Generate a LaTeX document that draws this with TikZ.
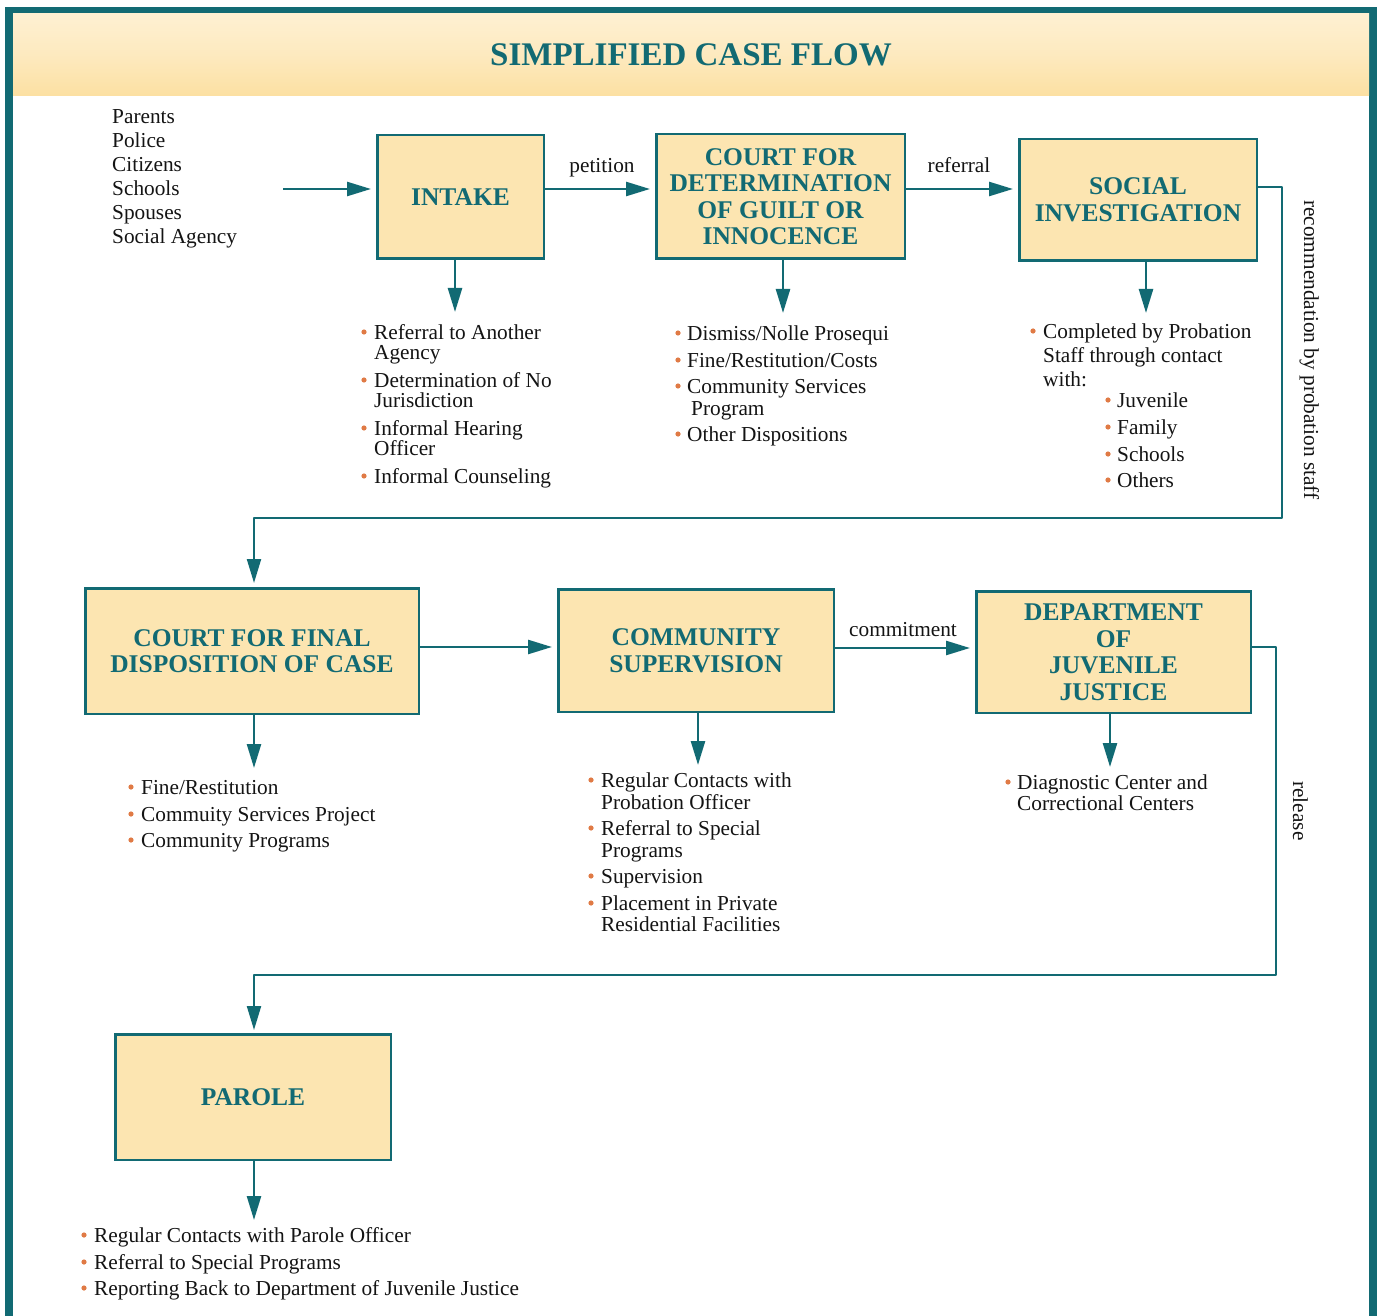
\documentclass[tikz,border=0pt]{standalone}
\usepackage{fontspec}
\setmainfont{Liberation Serif}
\usetikzlibrary{arrows.meta,calc}
\definecolor{teal0}{HTML}{126A73}
\definecolor{boxfill}{HTML}{FCE5B1}
\definecolor{bul}{HTML}{E07A45}
\definecolor{barA}{HTML}{FCE0A2}
\definecolor{barB}{HTML}{FEF0D2}
\definecolor{ink}{HTML}{141414}
\newcommand\cfl[4]{\node[txt] (#1) at (#2,#3) {#4};}
\newcommand\cfb[2]{\fill[bul] (#1,#2) circle (2.6pt);}
\begin{document}
\begin{tikzpicture}[x=1pt,y=-1pt,
  stage/.style={draw=teal0, line width=2.5pt, fill=boxfill, text=teal0,
    font=\fontsize{25.5}{26.5}\selectfont\bfseries, align=center, inner sep=0pt},
  arr/.style={draw=teal0, line width=2.5pt, line join=round, -{Triangle[length=24pt,width=14pt]}},
  txt/.style={font=\fontsize{21.3}{24}\selectfont, inner sep=0pt, text height=14pt,
    text depth=0pt, anchor=west, text=ink},
  lab/.style={font=\fontsize{21.3}{24}\selectfont, inner sep=0pt, text height=14pt,
    text depth=0pt, text=ink},
]
\useasboundingbox (0,0) rectangle (1377,1316);
% frame
\fill[teal0] (5,7) rectangle (1377,1316);
\fill[white] (13,14) rectangle (1369,1316);
\shade[top color=barB, bottom color=barA, middle color=barB!60!barA] (13,14) rectangle (1369,96);
\node[text=teal0, font=\fontsize{33}{36}\selectfont\bfseries] (title) at (691,55) {SIMPLIFIED CASE FLOW};

% stage boxes
\node[stage, minimum width=166.5pt, minimum height=123.5pt] (intake) at (460.5,197) {INTAKE};
\node[stage, minimum width=248.5pt, minimum height=124.5pt] (court1) at (780.5,196.5)
  {COURT FOR\\DETERMINATION\\OF GUILT OR\\INNOCENCE};
\node[stage, minimum width=237.5pt, minimum height=121.5pt] (social) at (1138,200)
  {SOCIAL\\INVESTIGATION};
\node[stage, minimum width=333.5pt, minimum height=125.5pt] (cfinal) at (252,651)
  {COURT FOR FINAL\\DISPOSITION OF CASE};
\node[stage, minimum width=275.5pt, minimum height=122.5pt] (comm) at (696,650.5)
  {COMMUNITY\\SUPERVISION};
\node[stage, minimum width=274.5pt, minimum height=121.5pt] (dept) at (1113.5,652)
  {DEPARTMENT\\OF\\JUVENILE\\JUSTICE};
\node[stage, minimum width=275.5pt, minimum height=125.5pt] (parole) at (253,1097) {PAROLE};

% sources
\cfl{s1}{112}{117}{Parents}
\cfl{s2}{112}{141}{Police}
\cfl{s3}{112}{165}{Citizens}
\cfl{s4}{112}{189}{Schools}
\cfl{s5}{112}{213}{Spouses}
\cfl{s6}{112}{237}{Social Agency}

% coordinates
\coordinate (row1) at (0,189);
\coordinate (src) at (283,189);
\coordinate (row2) at (0,647);
\coordinate (row2b) at (0,648);
\coordinate (r1) at (1282,187);
\coordinate (r2) at (1282,518);
\coordinate (r3) at (254,518);
\coordinate (q1) at (1276,647);
\coordinate (q2) at (1276,975);
\coordinate (q3) at (254,975);
\coordinate (d1) at (455,312);
\coordinate (d2) at (783,313);
\coordinate (d3) at (1146,313);
\coordinate (d4) at (254,768);
\coordinate (d5) at (698,765);
\coordinate (d6) at (1110,767);
\coordinate (d7) at (254,1220);

% main connectors
\draw[arr, shorten >=5pt] (src) -- (intake.west |- row1);
\draw[arr, shorten >=5pt] (intake.east |- row1) -- (court1.west |- row1);
\draw[arr, shorten >=5pt] (court1.east |- row1) -- (social.west |- row1);
\draw[arr, line width=2.2pt, shorten >=4pt] (social.east |- r1) -- (r1) -- (r2) -- (r3) -- (r3 |- cfinal.north);
\draw[arr, shorten >=5pt] (cfinal.east |- row2) -- (comm.west |- row2);
\draw[arr, shorten >=5pt] (comm.east |- row2b) -- (dept.west |- row2b);
\draw[arr, line width=2.2pt, shorten >=3pt] (dept.east |- q1) -- (q1) -- (q2) -- (q3) -- (q3 |- parole.north);

% down arrows
\draw[arr] (intake.south -| d1) -- (d1);
\draw[arr] (court1.south -| d2) -- (d2);
\draw[arr] (social.south -| d3) -- (d3);
\draw[arr] (cfinal.south -| d4) -- (d4);
\draw[arr] (comm.south -| d5) -- (d5);
\draw[arr] (dept.south -| d6) -- (d6);
\draw[arr] (parole.south -| d7) -- (d7);

% connector labels
\node[lab] (petition) at (602,166) {petition};
\node[lab] (referral) at (959,166) {referral};
\node[lab] (commitment) at (903,629) {commitment};
\node[lab, rotate=-90] (recomm) at (1311,350) {recommendation by probation staff};
\node[lab, rotate=-90] (release) at (1300,811) {release};

% intake list
\cfb{364}{332}\cfl{i1}{374}{332}{Referral to Another}
\cfl{i1b}{374}{352}{Agency}
\cfb{364}{380}\cfl{i2}{374}{380}{Determination of No}
\cfl{i2b}{374}{400}{Jurisdiction}
\cfb{364}{428}\cfl{i3}{374}{428}{Informal Hearing}
\cfl{i3b}{374}{448}{Officer}
\cfb{364}{476}\cfl{i4}{374}{476}{Informal Counseling}

% court list
\cfb{678}{333}\cfl{c1}{687}{333}{Dismiss/Nolle Prosequi}
\cfb{678}{360}\cfl{c2}{687}{360}{Fine/Restitution/Costs}
\cfb{678}{386}\cfl{c3}{687}{386}{Community Services}
\cfl{c3b}{691}{408}{Program}
\cfb{678}{434}\cfl{c4}{687}{434}{Other Dispositions}

% social list
\cfb{1033}{331}\cfl{so1}{1043}{331}{Completed by Probation}
\cfl{so1b}{1043}{355}{Staff through contact}
\cfl{so1c}{1043}{379}{with:}
\cfb{1108}{400}\cfl{so2}{1117}{400}{Juvenile}
\cfb{1108}{427}\cfl{so3}{1117}{427}{Family}
\cfb{1108}{454}\cfl{so4}{1117}{454}{Schools}
\cfb{1108}{480}\cfl{so5}{1117}{480}{Others}

% court final list
\cfb{131}{787}\cfl{f1}{141}{787}{Fine/Restitution}
\cfb{131}{814}\cfl{f2}{141}{814}{Commuity Services Project}
\cfb{131}{840}\cfl{f3}{141}{840}{Community Programs}

% community list
\cfb{591}{780}\cfl{m1}{601}{780}{Regular Contacts with}
\cfl{m1b}{601}{802}{Probation Officer}
\cfb{591}{828}\cfl{m2}{601}{828}{Referral to Special}
\cfl{m2b}{601}{850}{Programs}
\cfb{591}{876}\cfl{m3}{601}{876}{Supervision}
\cfb{591}{903}\cfl{m4}{601}{903}{Placement in Private}
\cfl{m4b}{601}{924}{Residential Facilities}

% department list
\cfb{1008}{782}\cfl{j1}{1017}{782}{Diagnostic Center and}
\cfl{j1b}{1017}{803}{Correctional Centers}

% parole list
\cfb{84}{1235}\cfl{p1}{94}{1235}{Regular Contacts with Parole Officer}
\cfb{84}{1262}\cfl{p2}{94}{1262}{Referral to Special Programs}
\cfb{84}{1288}\cfl{p3}{94}{1288}{Reporting Back to Department of Juvenile Justice}
\end{tikzpicture}
\end{document}
